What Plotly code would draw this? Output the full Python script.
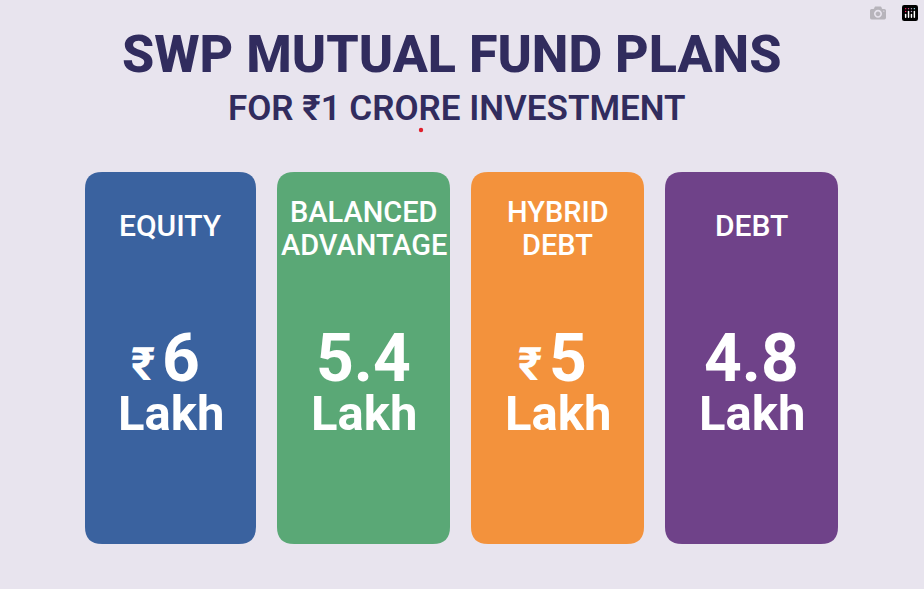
import plotly.graph_objects as go

categories = [["EQUITY"], ["BALANCED", "ADVANTAGE"], ["HYBRID", "DEBT"], ["DEBT"]]
amounts = ["6", "5.4", "5", "4.8"]
currency = ["₹", "", "₹", ""]
unit = "Lakh"
card_colors = ["#3a629f", "#5aa876", "#f3923c", "#6f4289"]
card_left = [85, 277, 471, 665]
card_right = [256, 450, 644, 838]
card_top = 172
card_bottom = 544
title = "SWP MUTUAL FUND PLANS"
subtitle = "FOR ₹1 CRORE INVESTMENT"

W, H = 924, 589
BG = "#e8e4ee"
INK = "#312c5e"
FONT = "Roboto, Inter, sans-serif"
R = 17


def rounded(x0, x1, y0, y1, r):
    return (
        f"M {x0+r} {y0} L {x1-r} {y0} Q {x1} {y0} {x1} {y0+r} "
        f"L {x1} {y1-r} Q {x1} {y1} {x1-r} {y1} "
        f"L {x0+r} {y1} Q {x0} {y1} {x0} {y1-r} "
        f"L {x0} {y0+r} Q {x0} {y0} {x0+r} {y0} Z"
    )


fig = go.Figure()


def label(x, y, text, size, color="white", weight=600):
    fig.add_annotation(
        x=x, y=y, text=text, showarrow=False, xanchor="center", yanchor="middle",
        font=dict(family=FONT, size=size, color=color, weight=weight),
    )


for i, cat in enumerate(categories):
    x0, x1 = card_left[i], card_right[i]
    mid = (x0 + x1) / 2
    fig.add_shape(
        type="path", path=rounded(x0, x1, card_top, card_bottom, R),
        fillcolor=card_colors[i], line_width=0, layer="below",
    )
    if len(cat) == 1:
        label(mid, 225, cat[0], 30, weight=500)
    else:
        label(mid, 212, cat[0], 29, weight=500)
        label(mid, 245, cat[1], 29, weight=500)
    if currency[i]:
        label(mid - 28, 364, currency[i], 46, weight=700)
        label(mid + 10, 358, amounts[i], 66, weight=700)
    else:
        label(mid, 358, amounts[i], 66, weight=700)
    label(mid, 413, unit, 49, weight=700)

label(452, 54, title, 52, color=INK, weight=800)
label(457, 108, subtitle, 35, color=INK, weight=600)

# small red dot under the subtitle
fig.add_shape(type="circle", x0=418.8, x1=423.2, y0=127.8, y1=132.2,
              fillcolor="#e0202c", line_width=0)

fig.update_layout(
    width=W, height=H, margin=dict(l=0, r=0, t=0, b=0),
    paper_bgcolor=BG, plot_bgcolor=BG, showlegend=False,
    xaxis=dict(range=[0, W], visible=False, fixedrange=True),
    yaxis=dict(range=[H, 0], visible=False, fixedrange=True),
)

fig.write_html(
    "out.html",
    post_script="document.body.style.margin='0';document.body.style.overflow='hidden';",
)
